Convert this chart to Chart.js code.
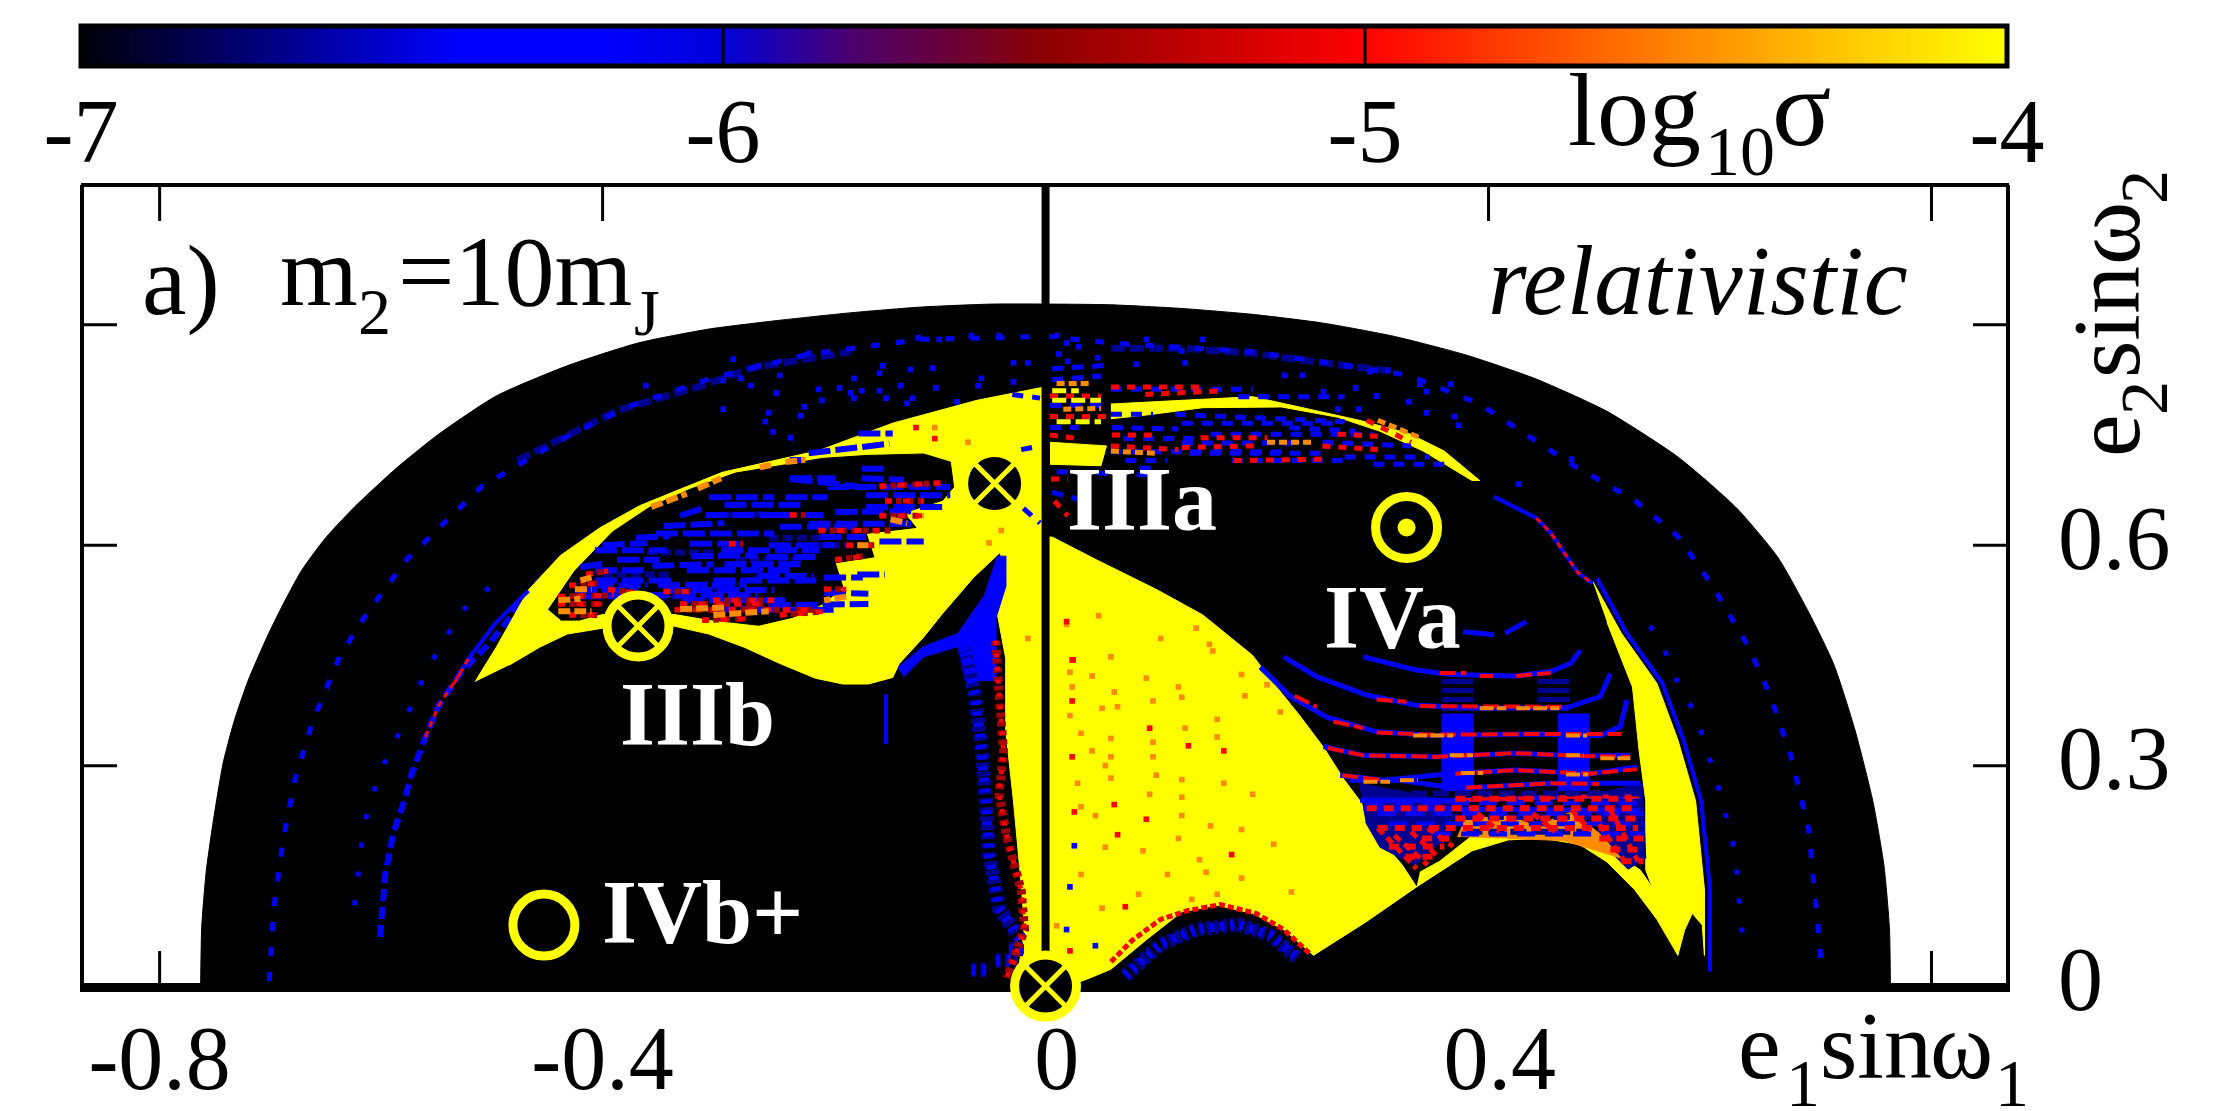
<!DOCTYPE html>
<html>
<head>
<meta charset="utf-8">
<title>log10 sigma map</title>
<script src="https://cdn.jsdelivr.net/npm/chart.js@4"></script>
<style>
  body { margin: 0; background: #fff; }
  canvas { position: absolute; left: 0; top: 0; }
</style>
</head>
<body>
<canvas id="mapa" width="2222" height="1111"></canvas>
<canvas id="barra" width="2222" height="185"></canvas>
<script>
// Eixos
const xTickValues = [-0.8, -0.4, 0, 0.4, 0.8];
const xTickLabels = ["-0.8", "-0.4", "\u00A00", "\u00A00.4", ""];
const yTickValues = [0, 0.3, 0.6, 0.9];
const yTickLabels = ["0", "0.3", "0.6", ""];
const barTickValues = [-7, -6, -5, -4];
const barTickLabels = ["-7", "-6", "-5", "-4"];
const barEdge = [[-7, 0], [-4, 0], [-4, 1], [-7, 1]];
const barStops = [0, 0.197, 0.27, 0.333, 0.40, 0.473, 0.5, 0.666, 0.774, 0.903, 1];
const barColors = ["#000008", "#0000ff", "#0000ff", "#0000d8", "#4b006e", "#780020", "#8c0000", "#ff0000", "#ff5a00", "#ffbe00", "#ffff00"];

// Contornos
const domeEdge = [[-0.763,0],[-0.762,0.08],[-0.758,0.155],[-0.752,0.22],[-0.743,0.301],[-0.733,0.359],[-0.72,0.416],[-0.703,0.475],[-0.69,0.515],[-0.672,0.565],[-0.65,0.61],[-0.624,0.652],[-0.586,0.705],[-0.548,0.751],[-0.496,0.803],[-0.432,0.844],[-0.368,0.875],[-0.304,0.894],[-0.24,0.906],[-0.177,0.916],[-0.112,0.924],[-0.048,0.928],[0.003,0.928],[0.059,0.927],[0.123,0.922],[0.187,0.914],[0.251,0.902],[0.315,0.884],[0.379,0.859],[0.443,0.826],[0.507,0.782],[0.571,0.72],[0.623,0.652],[0.661,0.584],[0.689,0.509],[0.712,0.437],[0.731,0.348],[0.747,0.252],[0.757,0.165],[0.762,0.08],[0.763,0]];

const yellowMain = [[-0.515,0.414],[-0.512,0.422],[-0.496,0.461],[-0.467,0.539],[-0.438,0.586],[-0.402,0.624],[-0.366,0.654],[-0.33,0.676],[-0.292,0.699],[-0.251,0.713],[-0.204,0.729],[-0.138,0.766],[-0.062,0.797],[-0.005,0.814],[0,0.814],[0,0.611],[0.006,0.611],[0.046,0.58],[0.101,0.539],[0.142,0.505],[0.187,0.45],[0.206,0.412],[0.229,0.369],[0.251,0.325],[0.27,0.28],[0.289,0.242],[0.306,0.193],[0.322,0.165],[0.335,0.135],[0.289,0.087],[0.242,0.042],[0.216,0.076],[0.187,0.099],[0.155,0.11],[0.123,0.101],[0.091,0.063],[0.059,0.023],[0.04,0.011],[0.022,0.001],[0,0.001],[-0.025,0.015],[-0.019,0.082],[-0.023,0.155],[-0.029,0.252],[-0.036,0.348],[-0.036,0.446],[-0.045,0.518],[-0.036,0.559],[-0.041,0.59],[-0.065,0.556],[-0.093,0.507],[-0.11,0.475],[-0.132,0.439],[-0.138,0.42],[-0.16,0.411],[-0.183,0.411],[-0.208,0.419],[-0.24,0.439],[-0.272,0.461],[-0.304,0.479],[-0.336,0.49],[-0.4,0.487],[-0.432,0.479],[-0.457,0.461],[-0.484,0.437]];
const yellowCrescent = [[0.494,0.551],[0.52,0.48],[0.552,0.412],[0.571,0.335],[0.587,0.252],[0.595,0.131],[0.595,0.042],[0.593,0.083],[0.584,0.099],[0.577,0.076],[0.571,0.042],[0.559,0.09],[0.542,0.158],[0.542,0.174],[0.542,0.252],[0.536,0.32],[0.53,0.407],[0.507,0.495]];
const yellowLobe = [[0.335,0.135],[0.385,0.184],[0.418,0.199],[0.449,0.201],[0.482,0.193],[0.507,0.169],[0.532,0.131],[0.552,0.091],[0.571,0.042],[0.559,0.11],[0.537,0.158],[0.51,0.185],[0.482,0.212],[0.451,0.212],[0.419,0.216],[0.388,0.208],[0.356,0.17],[0.338,0.155]];
const yellowStreak = [[0.059,0.792],[0.123,0.797],[0.187,0.802],[0.238,0.785],[0.283,0.77],[0.328,0.752],[0.36,0.728],[0.392,0.688],[0.385,0.688],[0.341,0.728],[0.302,0.755],[0.264,0.774],[0.213,0.788],[0.142,0.787],[0.091,0.777],[0.059,0.772]];
const yellowPatch = [[0.004,0.74],[0.055,0.735],[0.05,0.708],[0.004,0.71]];
const wingHole = [[-0.449,0.512],[-0.425,0.565],[-0.391,0.618],[-0.357,0.652],[-0.321,0.676],[-0.28,0.698],[-0.24,0.708],[-0.202,0.718],[-0.162,0.722],[-0.11,0.724],[-0.086,0.713],[-0.083,0.679],[-0.093,0.661],[-0.128,0.644],[-0.117,0.624],[-0.162,0.616],[-0.155,0.584],[-0.19,0.576],[-0.183,0.543],[-0.2,0.521],[-0.228,0.502],[-0.259,0.491],[-0.3,0.498],[-0.335,0.507],[-0.4,0.507],[-0.421,0.498],[-0.438,0.498]];
const wedgeBlue = [[-0.044,0.585],[-0.036,0.585],[-0.036,0.543],[-0.045,0.5],[-0.045,0.416],[-0.072,0.416],[-0.079,0.462],[-0.11,0.448],[-0.128,0.421],[-0.133,0.434],[-0.11,0.462],[-0.079,0.48],[-0.056,0.53]];
const fanLeftBlue = [[0.283,0.276],[0.366,0.252],[0.366,0.208],[0.334,0.164],[0.302,0.189],[0.289,0.223]];
const fanRightBlue = [[0.494,0.261],[0.539,0.276],[0.542,0.174],[0.526,0.159],[0.5,0.198]];
const fanMiddle = [[0.372,0.203],[0.379,0.227],[0.417,0.232],[0.443,0.218],[0.475,0.237],[0.5,0.208],[0.52,0.174],[0.468,0.198],[0.417,0.201]];

// Aneis externos
const ringOuter = [[-0.701,0.007,-0.697,0.106,-0.688,0.203,-0.678,0.28,-0.662,0.359,-0.637,0.45,-0.612,0.509,-0.576,0.582,-0.509,0.68,-0.432,0.748,-0.374,0.79,-0.304,0.826,-0.214,0.86,-0.112,0.88,0.003,0.884,0.059,0.875,0.187,0.863,0.251,0.849,0.328,0.831,0.392,0.792,0.475,0.71,0.532,0.661,0.571,0.612,0.603,0.543,0.635,0.461,0.654,0.397,0.673,0.314,0.689,0.214,0.696,0.106,0.701,0.023]];
const ringMiddle = [[-0.601,0.067,-0.596,0.155,-0.589,0.208,-0.579,0.252,-0.573,0.286,-0.56,0.339,-0.548,0.382,-0.528,0.427,-0.503,0.465,-0.477,0.514,-0.457,0.552]];
const ringSparse = [[-0.624,0.11,-0.618,0.189,-0.612,0.242,-0.598,0.301,-0.579,0.359,-0.56,0.427,-0.528,0.509,-0.49,0.558],[0.546,0.49,0.558,0.461,0.571,0.412,0.584,0.378,0.596,0.329,0.603,0.291,0.613,0.246,0.616,0.215,0.623,0.184,0.625,0.14,0.629,0.072]];
const ringFaint = [[-0.477,0.715,-0.432,0.749,-0.387,0.783,-0.31,0.817,-0.266,0.841,-0.176,0.863],[0.059,0.868,0.123,0.868,0.187,0.861,0.251,0.848,0.315,0.836]];
const crescentEdge = [[0.498,0.555,0.525,0.48,0.557,0.412,0.576,0.335,0.592,0.252,0.6,0.131,0.6,0.02],[0.405,0.666,0.443,0.637,0.456,0.617,0.469,0.588,0.481,0.562,0.494,0.548],[-0.534,0.412,-0.521,0.446,-0.496,0.495,-0.467,0.538],[-0.144,0.397,-0.144,0.329]];
const tailRed = [[0.443,0.637,0.456,0.617,0.469,0.588,0.481,0.562,0.494,0.548],[-0.534,0.412,-0.521,0.446],[-0.56,0.339,-0.548,0.382,-0.528,0.427]];

// Arcos da regiao inferior direita
const arcsBlue = [
  [0.287,0.448,0.335,0.43,0.365,0.424,0.425,0.422,0.456,0.428,0.474,0.439,0.483,0.457],
  [0.215,0.448,0.245,0.421,0.29,0.396,0.335,0.382,0.395,0.378,0.471,0.379,0.501,0.394,0.51,0.425],
  [0.194,0.434,0.221,0.394,0.254,0.366,0.299,0.346,0.35,0.341,0.44,0.343,0.501,0.341,0.519,0.353,0.525,0.389],
  [0.251,0.326,0.287,0.314,0.353,0.312,0.425,0.317,0.486,0.313,0.528,0.314],
  [0.266,0.287,0.305,0.28,0.365,0.289,0.425,0.294,0.492,0.289,0.534,0.298],
  [0.275,0.28,0.32,0.28,0.371,0.269,0.456,0.276,0.537,0.276],
  [0.284,0.253,0.365,0.253,0.486,0.258,0.537,0.258],
  [0.287,0.242,0.537,0.239],
  [0.377,0.482,0.405,0.478],[0.415,0.48,0.434,0.496]
];
const arcsRed = [
  [0.356,0.426,0.38,0.426],[0.392,0.422,0.404,0.422],[0.425,0.422,0.456,0.426],
  [0.299,0.39,0.326,0.387],[0.338,0.381,0.471,0.38],[0.225,0.395,0.245,0.38],
  [0.26,0.36,0.287,0.351],[0.299,0.345,0.35,0.342,0.44,0.343,0.52,0.343],
  [0.255,0.324,0.287,0.314,0.353,0.312,0.425,0.317,0.486,0.313,0.528,0.312],
  [0.268,0.287,0.305,0.28],[0.37,0.289,0.425,0.294,0.492,0.289,0.534,0.295],
  [0.38,0.27,0.456,0.276,0.5,0.275],[0.37,0.253,0.486,0.258,0.537,0.258]
];
const arcsOrange = [
  [0.392,0.378,0.416,0.378],[0.425,0.378,0.464,0.378],[0.332,0.341,0.368,0.341],[0.47,0.341,0.489,0.341],
  [0.365,0.314,0.386,0.314],[0.47,0.314,0.486,0.314],[0.501,0.31,0.528,0.31],[0.287,0.278,0.311,0.278],[0.32,0.28,0.336,0.28],
  [0.375,0.29,0.395,0.29],[0.47,0.288,0.49,0.288]
];
const bandDark = [[0.372,0.418,0.372,0.371],[0.459,0.418,0.459,0.371]];
const bandBlue = [[0.372,0.371,0.372,0.265],[0.477,0.371,0.477,0.265]];
const fanRowsBlue = [[0.29,0.249,0.54,0.249],[0.3,0.235,0.54,0.235],[0.31,0.221,0.54,0.221],[0.35,0.207,0.54,0.207]];
const fanRowsRed = [[0.37,0.255,0.53,0.255],[0.29,0.242,0.53,0.242],[0.37,0.228,0.535,0.228],[0.3,0.215,0.535,0.215],[0.34,0.201,0.37,0.201],[0.5,0.201,0.54,0.201],[0.31,0.19,0.36,0.19],[0.51,0.186,0.54,0.186],[0.325,0.176,0.35,0.176],[0.52,0.17,0.54,0.17]];
const fanRowsDark = [[0.29,0.262,0.54,0.262],[0.3,0.23,0.54,0.23],[0.33,0.198,0.36,0.198],[0.38,0.21,0.49,0.21]];
const fanRays = [[0.3,0.215,0.335,0.16],[0.315,0.205,0.345,0.165],[0.33,0.21,0.355,0.175],[0.345,0.215,0.368,0.19],[0.51,0.24,0.535,0.17],[0.5,0.22,0.525,0.165],[0.39,0.235,0.41,0.21],[0.44,0.235,0.46,0.21],[0.475,0.24,0.49,0.215]];

// Linhas de ruido na asa esquerda
const wingBlue = [
  [-0.166,0.691,-0.128,0.689],[-0.231,0.691,-0.19,0.691],[-0.304,0.665,-0.245,0.665],[-0.235,0.665,-0.197,0.665],
  [-0.197,0.679,-0.086,0.679],[-0.166,0.704,-0.145,0.704],[-0.231,0.716,-0.217,0.716],[-0.352,0.616,-0.245,0.616],
  [-0.321,0.602,-0.273,0.602],[-0.407,0.593,-0.342,0.593],[-0.293,0.593,-0.204,0.593],[-0.387,0.58,-0.349,0.58],
  [-0.407,0.566,-0.359,0.566],[-0.324,0.566,-0.231,0.566],[-0.407,0.552,-0.335,0.552],[-0.3,0.552,-0.204,0.552],
  [-0.425,0.539,-0.369,0.539],[-0.345,0.539,-0.245,0.539],[-0.328,0.525,-0.231,0.525],[-0.214,0.629,-0.117,0.629],
  [-0.162,0.652,-0.093,0.652],[-0.162,0.668,-0.086,0.668],[-0.204,0.611,-0.162,0.611],[-0.252,0.584,-0.204,0.584],
  [-0.169,0.752,-0.138,0.752],[-0.214,0.725,-0.141,0.738],[-0.307,0.641,-0.245,0.641],[-0.245,0.641,-0.2,0.641],
  [-0.42,0.57,-0.4,0.575],[-0.345,0.626,-0.29,0.63],[-0.37,0.61,-0.34,0.612],[-0.2,0.556,-0.165,0.556],[-0.26,0.512,-0.19,0.512],
  [-0.4,0.6,-0.36,0.603],[-0.355,0.572,-0.3,0.574],[-0.29,0.574,-0.22,0.574],[-0.41,0.545,-0.36,0.546],[-0.35,0.546,-0.27,0.546],
  [-0.26,0.558,-0.21,0.558],[-0.42,0.53,-0.37,0.531],[-0.36,0.532,-0.26,0.532],[-0.32,0.585,-0.26,0.586],[-0.25,0.6,-0.19,0.6],
  [-0.24,0.625,-0.17,0.625],[-0.19,0.645,-0.12,0.646],[-0.29,0.655,-0.22,0.655],[-0.23,0.69,-0.17,0.68],[-0.33,0.64,-0.31,0.65],
  [-0.25,0.518,-0.16,0.52],[-0.3,0.512,-0.27,0.513],[-0.2,0.535,-0.16,0.534],[-0.17,0.56,-0.145,0.56],[-0.15,0.605,-0.11,0.605]
];
const wingRed = [
  [-0.231,0.641,-0.217,0.641],[-0.286,0.602,-0.273,0.602],[-0.345,0.537,-0.321,0.537],[-0.3,0.525,-0.245,0.525],
  [-0.335,0.512,-0.21,0.512],[-0.31,0.498,-0.27,0.5],[-0.44,0.52,-0.4,0.52],[-0.43,0.505,-0.405,0.505],[-0.205,0.62,-0.14,0.62],
  [-0.19,0.58,-0.165,0.585],[-0.145,0.66,-0.11,0.66],[-0.15,0.68,-0.09,0.685],[-0.2,0.54,-0.18,0.54],[-0.395,0.54,-0.37,0.535],
  [-0.44,0.53,-0.39,0.532],[-0.33,0.52,-0.25,0.52],[-0.24,0.505,-0.2,0.51],[-0.18,0.6,-0.15,0.6],[-0.15,0.64,-0.11,0.64],
  [-0.43,0.545,-0.405,0.548],[-0.415,0.56,-0.395,0.565]
];
const wingOrange = [
  [-0.356,0.652,-0.324,0.67],[-0.314,0.677,-0.293,0.691],[-0.258,0.706,-0.248,0.709],[-0.235,0.713,-0.217,0.716],
  [-0.3,0.505,-0.25,0.51],[-0.44,0.51,-0.41,0.51],[-0.18,0.53,-0.2,0.525],[-0.14,0.635,-0.125,0.63],[-0.17,0.6,-0.16,0.6],
  [-0.425,0.54,-0.41,0.54],[-0.33,0.513,-0.29,0.515],[-0.44,0.525,-0.42,0.527],[-0.42,0.552,-0.41,0.556]
];
const wingDark = [[-0.3,0.641,-0.25,0.642],[-0.35,0.53,-0.26,0.53],[-0.4,0.56,-0.34,0.56],[-0.28,0.58,-0.22,0.58],[-0.22,0.6,-0.17,0.6],[-0.36,0.59,-0.3,0.59],[-0.25,0.61,-0.2,0.61],[-0.3,0.54,-0.25,0.56]];

// Ruido a direita da linha vertical
const upperBlue = [
  [0.059,0.812,0.187,0.812],[0.174,0.802,0.27,0.802],[0.059,0.778,0.097,0.778],[0.117,0.778,0.27,0.768],
  [0.123,0.766,0.264,0.766],[0.149,0.751,0.296,0.751],[0.123,0.739,0.225,0.739],[0.059,0.727,0.219,0.727],
  [0.072,0.715,0.11,0.715],[0.168,0.715,0.27,0.715],[0.085,0.705,0.097,0.705],[0.27,0.72,0.347,0.72],[0.296,0.71,0.36,0.71],
  [0.004,0.79,0.055,0.79],[0.004,0.76,0.03,0.76],[0.01,0.7,0.1,0.695],[0.006,0.672,0.035,0.66],[-0.02,0.65,-0.005,0.63],
  [-0.03,0.805,-0.005,0.8],[-0.022,0.73,-0.005,0.735],[0.006,0.84,0.06,0.845],[0.006,0.825,0.05,0.83],
  [0.06,0.76,0.12,0.758],[0.07,0.745,0.14,0.745],[0.22,0.76,0.28,0.755],[0.13,0.725,0.25,0.725],[0.25,0.74,0.33,0.735]
];
const upperRed = [
  [0.059,0.815,0.14,0.815],[0.14,0.746,0.2,0.746],[0.264,0.751,0.3,0.748],[0.123,0.733,0.19,0.735],[0.059,0.735,0.12,0.73],
  [0.25,0.735,0.3,0.73],[0.17,0.715,0.25,0.717],[0.004,0.803,0.05,0.803],[0.004,0.775,0.055,0.775],[0.004,0.75,0.03,0.745],
  [0.008,0.66,0.02,0.64],[0.29,0.77,0.33,0.74],[0.005,0.69,0.02,0.69],[0.06,0.75,0.1,0.75],[0.09,0.805,0.16,0.81]
];
const upperOrange = [[0.059,0.728,0.1,0.725],[0.2,0.74,0.24,0.74],[0.3,0.77,0.34,0.745],[0.01,0.82,0.04,0.82],[0.016,0.785,0.05,0.786]];
const upperYellow = [[0.006,0.797,0.05,0.797],[0.006,0.81,0.03,0.81],[0.01,0.768,0.05,0.768]];

// Franjas em torno da coluna central e do lobo inferior
const fringeBlue = [[-0.074,0.461,-0.064,0.397,-0.058,0.325,-0.054,0.252,-0.051,0.179,-0.042,0.106,-0.022,0.062],[-0.067,0.022,-0.05,0.022],[-0.045,0.035,-0.025,0.035],[-0.033,0.05,-0.018,0.05]];
const fringeRed = [[-0.045,0.47,-0.042,0.397,-0.038,0.32,-0.042,0.261,-0.035,0.203,-0.022,0.13,-0.019,0.077,-0.035,0.011]];
const bumpRed = [[0.059,0.033,0.078,0.062,0.104,0.091,0.129,0.103,0.158,0.111,0.19,0.099,0.215,0.077,0.238,0.045]];
const bumpBlue = [[0.072,0.014,0.104,0.057,0.136,0.077,0.174,0.084,0.203,0.069,0.228,0.038]];

// Celulas isoladas
const topCells = [[-0.115,0.882],[-0.096,0.88],[-0.067,0.885],[-0.042,0.885],[0.01,0.885],[0.019,0.875],[-0.214,0.861],[-0.282,0.853],[-0.259,0.844],[-0.147,0.844],[-0.122,0.839],[-0.102,0.841],[-0.15,0.834],[-0.173,0.827],[-0.24,0.831],[-0.275,0.827],[-0.291,0.824],[-0.266,0.817],[-0.361,0.817],[-0.058,0.827],[-0.029,0.848],[-0.016,0.848],[-0.029,0.822],[-0.205,0.812],[-0.186,0.814],[-0.166,0.81],[-0.15,0.81],[-0.131,0.817],[-0.243,0.807],[-0.099,0.814],[-0.061,0.817],[-0.173,0.8],[-0.144,0.8],[-0.125,0.793],[-0.202,0.797],[-0.291,0.785],[-0.25,0.78],[-0.218,0.788],[-0.253,0.768],[-0.221,0.776],[-0.246,0.754],[-0.23,0.746],[-0.176,0.807],[0.091,0.88],[0.142,0.88],[0.123,0.864],[0.082,0.846],[0.126,0.848],[0.216,0.831],[0.232,0.831],[0.28,0.814],[0.293,0.836],[0.309,0.838],[0.338,0.819],[0.366,0.819],[0.344,0.809],[0.328,0.795],[0.344,0.78],[0.373,0.763],[0.369,0.775],[0.251,0.809],[0.283,0.785],[0.299,0.803],[0.264,0.785],[0.475,0.717],[0.427,0.683],[0.012,0.86],[0.03,0.87],[0.047,0.855],[0.02,0.85],[-0.12,0.8],[-0.08,0.795],[-0.09,0.775]];
const yellowBlueCells = [[0.026,0.191],[0.022,0.135],[0.019,0.077],[0.045,0.055]];
const orangeCells = [[0.136,0.487],[0.104,0.473],[0.148,0.465],[0.151,0.456],[0.059,0.448],[0.091,0.419],[0.177,0.424],[0.12,0.407],[0.2,0.41],[0.062,0.4],[0.18,0.395],[0.097,0.388],[0.123,0.393],[0.065,0.38],[0.212,0.373],[0.126,0.351],[0.155,0.363],[0.059,0.337],[0.097,0.332],[0.155,0.339],[0.059,0.312],[0.097,0.312],[0.059,0.283],[0.1,0.287],[0.123,0.281],[0.161,0.276],[0.094,0.261],[0.123,0.257],[0.187,0.261],[0.123,0.232],[0.149,0.218],[0.12,0.201],[0.177,0.213],[0.206,0.193],[0.088,0.184],[0.139,0.172],[0.11,0.152],[0.145,0.155],[0.177,0.147],[0.084,0.125],[0.155,0.125],[0.222,0.128],[0.132,0.118],[0.019,0.492],[0.022,0.427],[0.024,0.407],[0.022,0.368],[0.032,0.344],[0.029,0.276],[0.032,0.244],[0.032,0.152],[0.048,0.504],[-0.016,0.473],[0.042,0.422],[0.051,0.378],[0.042,0.32],[0.054,0.3],[0.045,0.232],[0.054,0.189],[0.051,0.106],[0.01,0.082],[-0.051,0.603],[-0.04,0.62],[-0.1,0.76],[-0.07,0.74]];
const redCells = [[0.094,0.351],[0.129,0.327],[0.161,0.32],[0.062,0.247],[0.091,0.227],[0.065,0.206],[0.168,0.179],[0.072,0.108],[0.024,0.444],[0.024,0.388],[0.024,0.312],[0.026,0.237],[0.022,0.048],[0.019,0.496],[0.025,0.444],[-0.117,0.76],[-0.1,0.745]];

// Marcadores
const crossMarkers = [[-0.046,0.684], [-0.368,0.49], [0,0]];
const ringMarkers = [[0.326,0.624], [-0.453,0.083]];
const dotMarkers = [[0.326,0.624]];
const centerLine = [[0,0], [0,1.09]];

const toPoints = (pairs) => pairs.map((p) => ({ x: p[0], y: p[1] }));

// Cada lista vira uma polilinha, separadas por um ponto NaN
const toSegments = (lines) => {
  const pts = [];
  lines.forEach((line) => {
    for (let i = 0; i < line.length; i += 2) {
      pts.push({ x: line[i], y: line[i + 1] });
    }
    pts.push({ x: line[0], y: NaN });
  });
  return pts;
};

const datasets = [];
const push = (ds) => {
  ds.order = -datasets.length;
  datasets.push(ds);
};
const addShape = (pairs, color, tension) => {
  push({ data: toPoints(pairs), showLine: true, fill: "shape", tension: tension || 0, pointRadius: 0, backgroundColor: color, borderColor: color, borderWidth: 1 });
};
const addLines = (lines, color, width, dash) => {
  push({ data: toSegments(lines), showLine: true, fill: false, tension: 0, pointRadius: 0, borderColor: color, borderWidth: width, borderDash: dash || [], borderCapStyle: "butt" });
};
const addCells = (pairs, color) => {
  push({ data: toPoints(pairs), showLine: false, pointStyle: "rect", pointRadius: 4, borderWidth: 0, backgroundColor: color });
};

const BLACK = "#000000";
const BLUE = "#0000ff";
const NAVY = "#000090";
const RED = "#ff0000";
const MAROON = "#a00000";
const ORANGE = "#ff8c00";
const YELLOW = "#ffff00";

addShape(domeEdge, BLACK, 0.2);
addLines(ringFaint, NAVY, 7, [14, 5]);
addLines(ringOuter, BLUE, 5, [9, 16]);
addLines(ringMiddle, BLUE, 6, [12, 6]);
addLines(ringSparse, BLUE, 5, [5, 24]);
addCells(topCells, BLUE);
addLines(bandDark, NAVY, 32, [5, 4]);
addLines(bandBlue, BLUE, 32);
addShape(yellowMain, YELLOW);
addShape(yellowCrescent, YELLOW);
addShape(yellowLobe, YELLOW);
addShape(yellowStreak, YELLOW);
addShape(yellowPatch, YELLOW);
addShape(wingHole, BLACK);
addShape(wedgeBlue, BLUE);
addShape(fanLeftBlue, NAVY);
addShape(fanRightBlue, NAVY);
addShape(fanMiddle, ORANGE);
addLines(wingDark, NAVY, 6, [10, 4]);
addLines(wingBlue, BLUE, 6, [22, 5]);
addLines(wingRed, MAROON, 6, [6, 5]);
addLines(wingRed, RED, 5, [7, 11]);
addLines(wingOrange, ORANGE, 6, [12, 4]);
addLines(upperBlue, BLUE, 5, [11, 9]);
addLines(upperRed, RED, 5, [8, 8]);
addLines(upperOrange, ORANGE, 5, [8, 4]);
addLines(upperYellow, YELLOW, 5, [14, 5]);
addLines(fringeBlue, NAVY, 14, [5, 4]);
addLines(fringeBlue, BLUE, 10, [4, 7]);
addLines(fringeRed, MAROON, 9, [5, 4]);
addLines(fringeRed, RED, 5, [4, 9]);
addLines(bumpBlue, NAVY, 14, [5, 3]);
addLines(bumpBlue, BLUE, 9, [4, 6]);
addLines(bumpRed, RED, 5, [6, 3]);
addLines(arcsBlue, BLUE, 5);
addLines(crescentEdge, BLUE, 4);
addLines(tailRed, RED, 3, [6, 5]);
addLines(arcsRed, RED, 4, [16, 5]);
addLines(arcsOrange, ORANGE, 4, [14, 3]);
addLines(fanRowsDark, NAVY, 6, [16, 6]);
addLines(fanRowsBlue, BLUE, 5, [18, 10]);
addLines(fanRowsRed, RED, 6, [10, 7]);
addLines(fanRays, RED, 5, [8, 5]);
addCells(orangeCells, ORANGE);
addCells(redCells, RED);
addCells(yellowBlueCells, BLUE);
addLines([centerLine.flat()], BLACK, 8);
push({ data: toPoints(ringMarkers), clip: false, showLine: false, pointStyle: "circle", pointRadius: 31, borderWidth: 9, borderColor: YELLOW, backgroundColor: "rgba(0,0,0,0)" });
push({ data: toPoints(dotMarkers), clip: false, showLine: false, pointStyle: "circle", pointRadius: 9, borderWidth: 0, backgroundColor: YELLOW });
push({ data: toPoints(crossMarkers), clip: false, showLine: false, pointStyle: "circle", pointRadius: 31, borderWidth: 9, borderColor: YELLOW, backgroundColor: BLACK });
push({ data: toPoints(crossMarkers), clip: false, showLine: false, pointStyle: "crossRot", pointRadius: 31, borderWidth: 5, borderColor: YELLOW });

const SERIF = '"Liberation Serif"';

const putText = (ctx, str, x, y, size, color, style) => {
  ctx.font = (style ? style + " " : "") + size + "px " + SERIF;
  ctx.fillStyle = color || "#000";
  ctx.textAlign = "left";
  ctx.textBaseline = "alphabetic";
  ctx.fillText(str, x, y);
};

// Moldura e marcas dos eixos
const framePlugin = {
  id: "frame",
  beforeDatasetsDraw(chart) {
    const { ctx, chartArea: a, scales } = chart;
    ctx.save();
    ctx.fillStyle = "#000";
    ctx.fillRect(a.left, a.top - 2, a.right - a.left, 4);
    ctx.fillRect(a.left - 1, a.top, 4, a.bottom - a.top);
    ctx.fillRect(a.right - 3, a.top, 4, a.bottom - a.top);
    ctx.fillRect(a.left, a.bottom - 9, a.right - a.left, 9);
    ctx.lineWidth = 3;
    ctx.strokeStyle = "#000";
    ctx.beginPath();
    xTickValues.forEach((v) => {
      const p = scales.x.getPixelForValue(v);
      ctx.moveTo(p, a.top);
      ctx.lineTo(p, a.top + 36);
      ctx.moveTo(p, a.bottom);
      ctx.lineTo(p, a.bottom - 41);
    });
    yTickValues.slice(1).forEach((v) => {
      const p = scales.y.getPixelForValue(v);
      ctx.moveTo(a.left, p);
      ctx.lineTo(a.left + 36, p);
      ctx.moveTo(a.right, p);
      ctx.lineTo(a.right - 36, p);
    });
    ctx.stroke();
    ctx.restore();
  },
  afterDatasetsDraw(chart) {
    const { ctx } = chart;
    ctx.save();
    putText(ctx, "a)", 142, 314, 100);
    putText(ctx, "m", 280, 305, 100);
    putText(ctx, "2", 358, 334, 66);
    putText(ctx, "=10m", 398, 305, 100);
    putText(ctx, "J", 634, 335, 66);
    putText(ctx, "relativistic", 1488, 314, 99, "#000", "italic");
    putText(ctx, "IIIa", 1067, 530, 90, "#fff", "bold");
    putText(ctx, "IIIb", 620, 745, 90, "#fff", "bold");
    putText(ctx, "IVa", 1324, 648, 90, "#fff", "bold");
    putText(ctx, "IVb+", 602, 943, 90, "#fff", "bold");
    putText(ctx, "e", 1738, 1078, 96);
    putText(ctx, "1", 1786, 1106, 68);
    putText(ctx, "sin", 1820, 1078, 96);
    putText(ctx, "\u03c9", 1930, 1078, 96);
    putText(ctx, "1", 1995, 1106, 68);
    ctx.translate(2139, 457);
    ctx.rotate(-Math.PI / 2);
    putText(ctx, "e", 0, 0, 96);
    putText(ctx, "2", 42, 28, 68);
    putText(ctx, "sin", 79, 0, 96);
    putText(ctx, "\u03c9", 192, 0, 96);
    putText(ctx, "2", 253, 28, 68);
    ctx.restore();
  },
};

new Chart(document.querySelector("#mapa"), {
  type: "scatter",
  data: { datasets },
  plugins: [framePlugin],
  options: {
    responsive: false,
    animation: false,
    events: [],
    layout: { padding: { left: 81, top: 185, right: 0, bottom: 0 } },
    plugins: { legend: { display: false }, tooltip: { enabled: false }, title: { display: false } },
    scales: {
      x: {
        type: "linear",
        min: -0.871,
        max: 0.87,
        grid: { display: false },
        border: { display: false },
        afterBuildTicks: (scale) => {
          scale.ticks = xTickValues.map((v) => ({ value: v }));
        },
        afterFit: (scale) => {
          scale.height = 119;
          scale.paddingLeft = 0;
          scale.paddingRight = 0;
        },
        ticks: {
          autoSkip: false,
          maxRotation: 0,
          padding: 11,
          color: "#000",
          font: { family: SERIF, size: 90 },
          callback: (v) => xTickLabels[xTickValues.indexOf(v)],
        },
      },
      y: {
        type: "linear",
        position: "right",
        min: -0.008,
        max: 1.09,
        grid: { display: false },
        border: { display: false },
        afterBuildTicks: (scale) => {
          scale.ticks = yTickValues.map((v) => ({ value: v }));
        },
        afterFit: (scale) => {
          scale.width = 213;
          scale.paddingTop = 0;
          scale.paddingBottom = 0;
        },
        ticks: {
          autoSkip: false,
          padding: 41,
          color: "#000",
          font: { family: SERIF, size: 90 },
          callback: (v) => yTickLabels[yTickValues.indexOf(v)],
        },
      },
    },
  },
});

// Barra de cores
const barGradient = (context) => {
  const { chart } = context;
  if (!chart.chartArea) {
    return BLACK;
  }
  const g = chart.ctx.createLinearGradient(chart.chartArea.left, 0, chart.chartArea.right, 0);
  barStops.forEach((s, i) => g.addColorStop(s, barColors[i]));
  return g;
};

const barPlugin = {
  id: "barra",
  afterDatasetsDraw(chart) {
    const { ctx, chartArea: a, scales } = chart;
    ctx.save();
    ctx.strokeStyle = "#000";
    ctx.lineWidth = 5;
    ctx.strokeRect(a.left, a.top, a.right - a.left, a.bottom - a.top);
    ctx.lineWidth = 3;
    ctx.beginPath();
    barTickValues.slice(1, 3).forEach((v) => {
      const p = scales.x.getPixelForValue(v);
      ctx.moveTo(p, a.top);
      ctx.lineTo(p, a.bottom);
    });
    ctx.stroke();
    putText(ctx, "log", 1568, 145, 104);
    putText(ctx, "10", 1705, 175, 70);
    putText(ctx, "\u03c3", 1772, 145, 110);
    ctx.restore();
  },
};

new Chart(document.querySelector("#barra"), {
  type: "scatter",
  data: {
    datasets: [{ data: toPoints(barEdge), showLine: true, fill: "shape", tension: 0, pointRadius: 0, borderWidth: 0, backgroundColor: barGradient }],
  },
  plugins: [barPlugin],
  options: {
    responsive: false,
    animation: false,
    events: [],
    layout: { padding: { left: 81, top: 26, right: 215, bottom: 0 } },
    plugins: { legend: { display: false }, tooltip: { enabled: false } },
    scales: {
      x: {
        type: "linear",
        min: -7,
        max: -4,
        grid: { display: false },
        border: { display: false },
        afterBuildTicks: (scale) => {
          scale.ticks = barTickValues.map((v) => ({ value: v }));
        },
        afterFit: (scale) => {
          scale.height = 119;
          scale.paddingLeft = 0;
          scale.paddingRight = 0;
        },
        ticks: {
          autoSkip: false,
          maxRotation: 0,
          padding: 10,
          color: "#000",
          font: { family: SERIF, size: 90 },
          callback: (v) => barTickLabels[barTickValues.indexOf(v)],
        },
      },
      y: { display: false, min: 0, max: 1 },
    },
  },
});
</script>
</body>
</html>
